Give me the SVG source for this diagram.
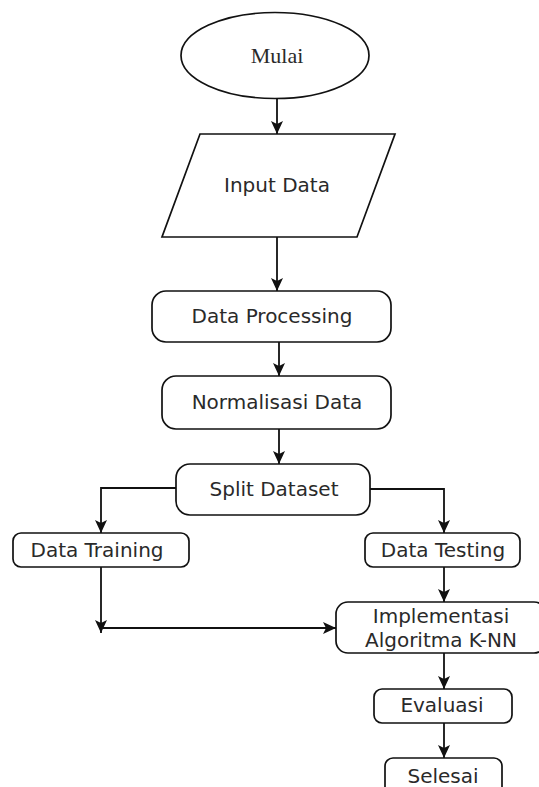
<svg xmlns="http://www.w3.org/2000/svg" width="539" height="787" viewBox="0 0 539 787">
<defs>
<style>
.shape{fill:#fff;stroke:#111;stroke-width:1.7}
.lbl{font-family:"DejaVu Sans",sans-serif;font-size:20px;fill:#2a2a2a;text-anchor:middle}
.serif{font-family:"Liberation Serif",serif;font-size:22px;fill:#2a2a2a;text-anchor:middle}
.edge{fill:none;stroke:#111;stroke-width:1.8;marker-end:url(#arr)}
</style>
<marker id="arr" markerUnits="userSpaceOnUse" markerWidth="14" markerHeight="14" refX="13" refY="7" orient="auto">
<path d="M0,1 L13,7 L0,13 L3,7 z" fill="#111"/>
</marker>
</defs>
<rect width="539" height="787" fill="#fff"/>
<g id="connectors">
<path class="edge" d="M277,99 L277,134"/>
<path class="edge" d="M277,237 L277,291"/>
<path class="edge" d="M279,342 L279,376"/>
<path class="edge" d="M279,429 L279,464"/>
<path class="edge" d="M176,488 L101,488 L101,533"/>
<path class="edge" d="M370,489 L444,489 L444,533"/>
<path class="edge" d="M101,567 L101,633"/>
<path class="edge" d="M102,628 L336,628"/>
<path class="edge" d="M444,567 L444,602"/>
<path class="edge" d="M444,653 L444,689"/>
<path class="edge" d="M444,723 L444,758"/>
</g>
<g id="mulai">
<ellipse class="shape" cx="275" cy="55.5" rx="94" ry="43"/>
<text class="serif" x="277" y="63">Mulai</text>
</g>
<g id="input-data">
<polygon class="shape" points="200,134 395,134 357,237 162,237"/>
<text class="lbl" x="277" y="192">Input Data</text>
</g>
<g id="data-processing">
<rect class="shape" x="152" y="291" width="239" height="51" rx="14"/>
<text class="lbl" x="272" y="323">Data Processing</text>
</g>
<g id="normalisasi-data">
<rect class="shape" x="162" y="376" width="229" height="53" rx="14"/>
<text class="lbl" x="277" y="409">Normalisasi Data</text>
</g>
<g id="split-dataset">
<rect class="shape" x="176" y="464" width="194" height="51" rx="14"/>
<text class="lbl" x="274" y="496">Split Dataset</text>
</g>
<g id="data-training">
<rect class="shape" x="13" y="533" width="176" height="34" rx="8"/>
<text class="lbl" x="97" y="557">Data Training</text>
</g>
<g id="data-testing">
<rect class="shape" x="365" y="533" width="155" height="34" rx="8"/>
<text class="lbl" x="443" y="557">Data Testing</text>
</g>
<g id="implementasi">
<rect class="shape" x="336" y="602" width="210" height="51" rx="12"/>
<text class="lbl" x="441" y="623">Implementasi</text>
<text class="lbl" x="441" y="647">Algoritma K-NN</text>
</g>
<g id="evaluasi">
<rect class="shape" x="374" y="689" width="138" height="34" rx="8"/>
<text class="lbl" x="442" y="712">Evaluasi</text>
</g>
<g id="selesai">
<rect class="shape" x="385" y="758" width="117" height="40" rx="8"/>
<text class="lbl" x="443" y="783">Selesai</text>
</g>
</svg>
